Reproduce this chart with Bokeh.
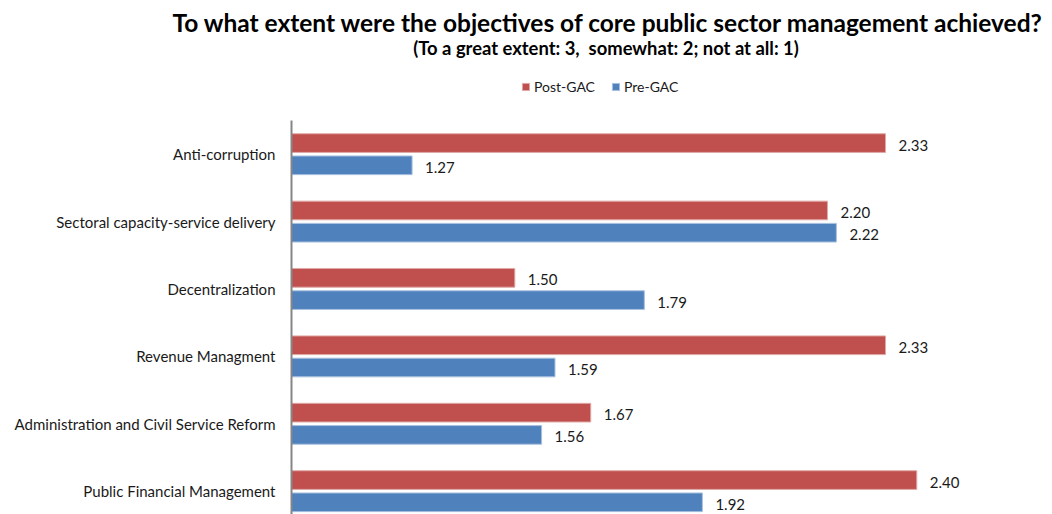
from bokeh.plotting import figure
from bokeh.models import Range1d, Legend, LegendItem, ColumnDataSource, FixedTicker, Title, Label
from bokeh.core.properties import value
from bokeh.embed import file_html
from bokeh.resources import INLINE

categories = ["Anti-corruption", "Sectoral capacity-service delivery", "Decentralization",
              "Revenue Managment", "Administration and Civil Service Reform",
              "Public Financial Management"]
post_gac = [2.33, 2.20, 1.50, 2.33, 1.67, 2.40]
pre_gac = [1.27, 2.22, 1.79, 1.59, 1.56, 1.92]
series_names = ["Post-GAC", "Pre-GAC"]
title_text = "To what extent were the objectives of core public sector management achieved?"
subtitle_text = "(To a great extent: 3,\u00a0 somewhat: 2; not at all: 1)"

RED = "#C0504D"
BLUE = "#4F81BD"
FONT = "Lato"

idx = list(range(len(categories)))
off = 0.165
bar_h = 0.277

post_src = ColumnDataSource(dict(y=[i - off for i in idx], v=post_gac,
                                 t=["%.2f" % v for v in post_gac]))
pre_src = ColumnDataSource(dict(y=[i + off for i in idx], v=pre_gac,
                                t=["%.2f" % v for v in pre_gac]))

p = figure(width=1052, height=514, output_backend="svg", toolbar_location=None,
           x_range=Range1d(1, 2.677), y_range=Range1d(5.346, -1.7166),
           x_axis_location=None, min_border_left=291, min_border_top=38,
           min_border_right=12, min_border_bottom=0)
p.outline_line_color = None
p.xgrid.visible = False
p.ygrid.visible = False

r_post = p.hbar(y="y", left=1, right="v", height=bar_h, source=post_src,
                fill_color=RED, line_color="#dfa9a7", line_width=1)
r_pre = p.hbar(y="y", left=1, right="v", height=bar_h, source=pre_src,
               fill_color=BLUE, line_color="#a9c1df", line_width=1)

for src in (post_src, pre_src):
    p.text(x="v", y="y", text="t", source=src, x_offset=13, y_offset=2,
           text_baseline="middle", text_align="left", text_font=value(FONT),
           text_font_size="15px", text_color="#1a1a1a")

ax = p.yaxis[0]
ax.ticker = FixedTicker(ticks=idx)
ax.bounds = (-0.5, 5.346)
ax.major_label_overrides = {i: c for i, c in zip(idx, categories)}
ax.major_label_text_font = FONT
ax.major_label_text_font_size = "15px"
ax.major_label_text_color = "#1a1a1a"
ax.major_label_standoff = 10
ax.major_tick_line_color = None
ax.minor_tick_line_color = None
ax.axis_line_color = "#868686"
ax.axis_line_width = 2

legend = Legend(items=[LegendItem(label=series_names[0], renderers=[r_post]),
                       LegendItem(label=series_names[1], renderers=[r_pre])],
                location=(230, 419), orientation="horizontal",
                glyph_width=9, glyph_height=9, label_standoff=4, spacing=16,
                padding=0, margin=0, label_height=16,
                label_text_font=FONT, label_text_font_size="14px",
                label_text_color="#1a1a1a",
                background_fill_alpha=0, border_line_color=None)
p.add_layout(legend)

p.add_layout(Label(x=314.5, y=467, x_units="screen", y_units="screen", text=subtitle_text,
                   text_align="center", text_baseline="middle", text_font=FONT,
                   text_font_style="bold", text_font_size="18.4px", text_color="black"))

p.add_layout(Title(text=title_text, align="left", offset=-119, standoff=4,
                   text_font=FONT, text_font_style="bold", text_font_size="24.5px",
                   text_color="black"), "above")

open("out.html", "w").write(file_html(p, INLINE))
